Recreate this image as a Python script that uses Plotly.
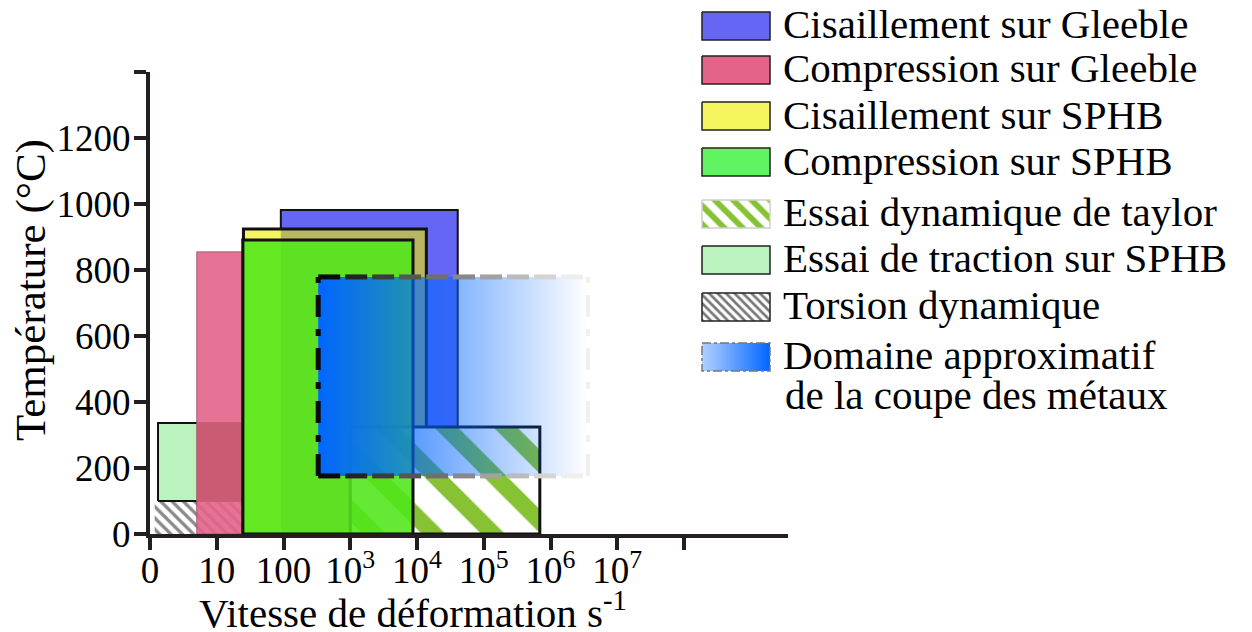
import plotly.graph_objects as go

# page body has an 8px margin: the figure is made 8px smaller and every
# reference-pixel position below is expressed in full-window pixels.
VW, VH = 1252, 632
OFF = 8
W, H = VW - OFF, VH - OFF
FONT = "Liberation Serif"
AX = "#231F20"

# ---------------- data ----------------
names = [
    "Cisaillement sur Gleeble",
    "Compression sur Gleeble",
    "Cisaillement sur SPHB",
    "Compression sur SPHB",
    "Essai dynamique de taylor",
    "Essai de traction sur SPHB",
    "Torsion dynamique",
    "Domaine approximatif<br>de la coupe des métaux",
]
# strain-rate position (0 -> "0", 1 -> 10, 2 -> 100, 3 -> 1e3 ...)
rate_lo = [1.96, 0.70, 1.40, 1.39, 3.00, 0.12, 0.07, 2.52]
rate_hi = [4.61, 3.52, 4.14, 3.94, 5.84, 2.20, 1.95, 6.56]
# temperature (°C)
temp_lo = [0, 0, 0, 0, 0, 100, 0, 176]
temp_hi = [982, 855, 924, 891, 324, 336, 97, 779]

x_tickvals = [0, 1, 2, 3, 4, 5, 6, 7, 8]
x_ticktext = ["0", "10", "100", "10<sup>3</sup>", "10<sup>4</sup>", "10<sup>5</sup>",
              "10<sup>6</sup>", "10<sup>7</sup>", ""]
y_tickvals = [0, 200, 400, 600, 800, 1000, 1200, 1400]
y_ticktext = ["0", "200", "400", "600", "800", "1000", "1200", ""]

# ---------------- styles ----------------
fills = ["#6666F5", "rgba(227,99,137,0.90)", "#F5F560", "rgba(80,230,25,0.88)",
         None, "#BBF3BF", None, None]
borders = [("#111", 2), ("rgba(150,80,100,0.8)", 1), ("#111", 3), ("#111", 3),
           ("#111", 3), ("#111", 2), (None, 0), (None, 0)]
patterns = {4: dict(shape="\\", fgcolor="#86C233", bgcolor="white", fgopacity=1,
                    size=42, solidity=0.4),
            6: dict(shape="\\", fgcolor="#8a8a8a", bgcolor="white", fgopacity=1,
                    size=8, solidity=0.42)}

fig = go.Figure()


def rect_xy(i):
    return ([rate_lo[i], rate_hi[i], rate_hi[i], rate_lo[i], rate_lo[i]],
            [temp_lo[i], temp_lo[i], temp_hi[i], temp_hi[i], temp_lo[i]])


def add_rect(i, fill=True, outline=True):
    x, y = rect_xy(i)
    kw = dict(x=x, y=y, mode="lines", hoverinfo="skip", showlegend=False)
    if fill:
        kw["fill"] = "toself"
        if i in patterns:
            kw["fillpattern"] = patterns[i]
            kw["fillcolor"] = "white"
        else:
            kw["fillcolor"] = fills[i]
    col, w = borders[i]
    if outline and col:
        kw["line"] = dict(color=col, width=w)
    else:
        kw["line"] = dict(color="rgba(0,0,0,0)", width=0)
    fig.add_trace(go.Scatter(**kw))


def add_overlap(i, j, color):
    x0, x1 = max(rate_lo[i], rate_lo[j]), min(rate_hi[i], rate_hi[j])
    y0, y1 = max(temp_lo[i], temp_lo[j]), min(temp_hi[i], temp_hi[j])
    fig.add_trace(go.Scatter(x=[x0, x1, x1, x0, x0], y=[y0, y0, y1, y1, y0],
                             mode="lines", fill="toself", fillcolor=color,
                             line=dict(width=0, color="rgba(0,0,0,0)"),
                             hoverinfo="skip", showlegend=False))


# layering
add_rect(5)                      # traction
add_rect(6)                      # torsion
add_rect(1)                      # compression gleeble
add_overlap(1, 5, "#C95B72")
add_rect(0)                      # cisaillement gleeble
add_rect(2, outline=False)       # cisaillement SPHB
add_overlap(0, 2, "#B8B862")
add_rect(2, fill=False)
add_rect(4)                      # taylor
add_rect(3)                      # compression SPHB

# domaine: gradient fill
d = 7
x, y = rect_xy(d)
fig.add_trace(go.Scatter(x=x, y=y, mode="lines", fill="toself",
                         fillgradient=dict(type="horizontal",
                                           colorscale=[[0, "rgba(0,102,255,1)"],
                                                       [0.45, "rgba(0,102,255,0.55)"],
                                                       [1, "rgba(0,102,255,0.0)"]]),
                         line=dict(width=0, color="rgba(0,0,0,0)"),
                         hoverinfo="skip", showlegend=False))
DASH = "22px,12px,7px,12px"
nseg = 10
for k in range(nseg):
    xa = rate_lo[d] + (rate_hi[d] - rate_lo[d]) * k / nseg
    xb = rate_lo[d] + (rate_hi[d] - rate_lo[d]) * (k + 1) / nseg
    g = int(10 + 228 * k / (nseg - 1))
    for yy in (temp_lo[d], temp_hi[d]):
        fig.add_trace(go.Scatter(x=[xa, xb], y=[yy, yy], mode="lines",
                                 line=dict(color=f"rgb({g},{g},{g})", width=5, dash=DASH),
                                 hoverinfo="skip", showlegend=False))
fig.add_trace(go.Scatter(x=[rate_lo[d], rate_lo[d]], y=[temp_lo[d], temp_hi[d]], mode="lines",
                         line=dict(color="#0a0a0a", width=5, dash=DASH),
                         hoverinfo="skip", showlegend=False))
fig.add_trace(go.Scatter(x=[rate_hi[d], rate_hi[d]], y=[temp_lo[d], temp_hi[d]], mode="lines",
                         line=dict(color="rgb(240,240,240)", width=4, dash=DASH),
                         hoverinfo="skip", showlegend=False))

# ---------------- legend (drawn on window-pixel overlay axes) ----------------
sw_x0, sw_x1 = 702, 770
rows_top = [12, 56, 102, 148, 200, 246, 293, 343]
sw_h = 28
leg_fill = ["#6666F5", "#E36389", "#F5F560", "#60F560", None, "#BBF3BF", None, None]
leg_line = ["#222", "#222", "#222", "#222", "#cfcfcf", "#222", "#222", "#777"]
leg_pat = {4: dict(shape="\\", fgcolor="#86C233", bgcolor="white", fgopacity=1, size=13, solidity=0.45),
           6: dict(shape="\\", fgcolor="#777", bgcolor="white", fgopacity=1, size=6, solidity=0.45)}
for i, top in enumerate(rows_top):
    xs = [sw_x0, sw_x1, sw_x1, sw_x0, sw_x0]
    ys = [top, top, top + sw_h, top + sw_h, top]
    kw = dict(x=xs, y=ys, xaxis="x2", yaxis="y2", mode="lines", fill="toself",
              hoverinfo="skip", showlegend=False,
              line=dict(color=leg_line[i], width=1.5))
    if i in leg_pat:
        kw["fillpattern"] = leg_pat[i]
        kw["fillcolor"] = "white"
    elif i == 7:
        kw["fillgradient"] = dict(type="horizontal",
                                  colorscale=[[0, "rgba(0,102,255,0.3)"], [1, "rgba(0,102,255,1)"]])
        kw["line"] = dict(color=leg_line[i], width=1.5, dash="dashdot")
    else:
        kw["fillcolor"] = leg_fill[i]
    fig.add_trace(go.Scatter(**kw))

text_y = [24, 68, 115, 161, 212, 258, 305, 355]
line_gap = 40
for i, ty in enumerate(text_y):
    for k, part in enumerate(names[i].split("<br>")):
        fig.add_annotation(x=781 if k == 0 else 783, y=ty + k * line_gap, xref="x2", yref="y2",
                           text=part, showarrow=False, xanchor="left", yanchor="middle",
                           align="left", font=dict(family=FONT, size=41, color="black"))

# axis titles
fig.add_annotation(x=31, y=290, xref="x2", yref="y2", text="Température (°C)", textangle=-90,
                   showarrow=False, font=dict(family=FONT, size=43, color="black"))
fig.add_annotation(x=413, y=610, xref="x2", yref="y2", text="Vitesse de déformation s<sup>-1</sup>",
                   showarrow=False, font=dict(family=FONT, size=41, color="black"))

# main plot area in window pixels
px_left, px_right, px_top, px_bottom = 150, 788, 72, 534
unit = 66.75
fig.update_layout(
    width=W, height=H, margin=dict(l=0, r=0, t=0, b=0, autoexpand=False),
    paper_bgcolor="white", plot_bgcolor="rgba(0,0,0,0)", showlegend=False,
    xaxis=dict(domain=[(px_left - OFF) / W, (px_right - OFF) / W],
               range=[0, (px_right - px_left) / unit], automargin=False,
               tickmode="array", tickvals=x_tickvals, ticktext=x_ticktext,
               ticks="outside", ticklen=12, tickwidth=4, tickcolor=AX, ticklabelstandoff=-11,
               showline=True, linewidth=4, linecolor=AX, showgrid=False, zeroline=False,
               tickfont=dict(family=FONT, size=37, color="black"), fixedrange=True),
    yaxis=dict(domain=[(VH - px_bottom) / H, (VH - px_top) / H], range=[0, 1400], automargin=False,
               tickmode="array", tickvals=y_tickvals, ticktext=y_ticktext,
               ticks="outside", ticklen=12, tickwidth=4, tickcolor=AX, ticklabelstandoff=-4,
               showline=True, linewidth=4, linecolor=AX, showgrid=False, zeroline=False,
               tickfont=dict(family=FONT, size=37, color="black"), fixedrange=True),
    xaxis2=dict(domain=[0, 1], range=[OFF, VW], visible=False, anchor="y2", fixedrange=True,
                automargin=False),
    yaxis2=dict(domain=[0, 1], range=[VH, OFF], visible=False, anchor="x2", fixedrange=True,
                automargin=False),
)

fig.write_html("out.html")
